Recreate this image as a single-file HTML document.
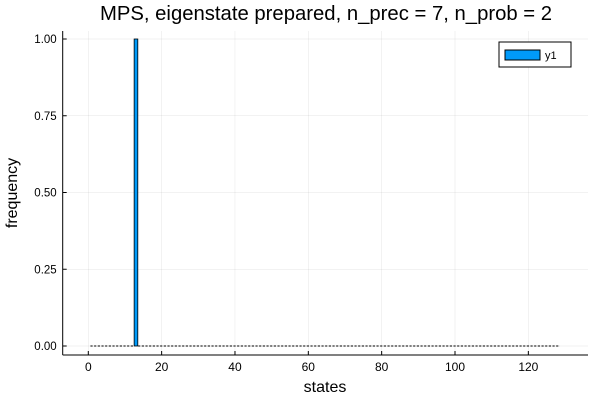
<!DOCTYPE html>
<html><head><meta charset="utf-8"><style>
body{margin:0;background:#fff;}
svg{display:block;font-family:"Liberation Sans","DejaVu Sans",sans-serif;}
</style></head><body>
<svg id="c" width="600" height="400">
<text x="326" y="20" font-size="20.3" text-anchor="middle" fill="#000">MPS, eigenstate prepared, n_prec = 7, n_prob = 2</text>
<g id="grid"></g>
<g id="bars"></g>
<g id="axes"></g>
<text x="325" y="392" font-size="16" text-anchor="middle">states</text>
<text transform="translate(17,193) rotate(-90)" font-size="16" text-anchor="middle">frequency</text>
<g>
<rect x="499" y="42" width="72" height="25" fill="#fff" stroke="#000" stroke-width="1"/>
<rect x="505" y="50" width="35" height="10" fill="#009af9" stroke="#000" stroke-width="1"/>
<text x="545" y="59" font-size="11">y1</text>
</g>
</svg>
<script>
const states = Array.from({length:128},(_, i)=>i+1);
const freqValues = states.map(s => s === 13 ? 1.0 : 0.0);
const xTicks = [0,20,40,60,80,100,120];
const yTicks = [0,0.25,0.5,0.75,1.0];
const yTickLabels = ["0.00","0.25","0.50","0.75","1.00"];

const L=62.7,R=588,T=31,B=355;
const xs=v=>88.3+v*3.667;
const ys=v=>346-v*307;
const NS="http://www.w3.org/2000/svg";
function mk(tag,attrs,parent){const e=document.createElementNS(NS,tag);for(const k in attrs)e.setAttribute(k,attrs[k]);parent.appendChild(e);return e;}
const grid=document.getElementById('grid'),bars=document.getElementById('bars'),axes=document.getElementById('axes');
xTicks.forEach(t=>{
  const l=mk('line',{x1:xs(t),x2:xs(t),y1:T,y2:B,stroke:'#000','stroke-opacity':0.1,'stroke-width':0.5},grid);
  
  
  const tk=mk('line',{x1:xs(t),x2:xs(t),y1:B,y2:B-4,stroke:'#000','stroke-width':1},axes);
  
  
  const tx=mk('text',{x:xs(t),y:B+16,'font-size':12,'text-anchor':'middle'},axes);
  tx.textContent=t;
  
  
});
yTicks.forEach((t,i)=>{
  const l=mk('line',{x1:L,x2:R,y1:ys(t),y2:ys(t),stroke:'#000','stroke-opacity':0.1,'stroke-width':0.5},grid);
  
  
  const tk=mk('line',{x1:L,x2:L+4,y1:ys(t),y2:ys(t),stroke:'#000','stroke-width':1},axes);
  
  
  const tx=mk('text',{x:L-6,y:ys(t)+4,'font-size':11.5,'text-anchor':'end'},axes);
  tx.textContent=yTickLabels[i];
  
  
});
const ax1=mk('line',{x1:L,x2:L,y1:T,y2:B,stroke:'#000','stroke-width':1},axes);


const ax2=mk('line',{x1:L,x2:R,y1:B,y2:B,stroke:'#000','stroke-width':1},axes);


states.forEach((s,i)=>{
  const v=freqValues[i];
  const x0=xs(s-0.5),x1=xs(s+0.5);
  if(v>0){
    const r=mk('rect',{x:x0,y:ys(v),width:x1-x0,height:ys(0)-ys(v),fill:'#009af9',stroke:'#000','stroke-width':0.8},bars);
    
    
  } else {
    const r=mk('line',{x1:x0+0.3,x2:x1-0.3,y1:ys(0),y2:ys(0),stroke:'#000','stroke-width':1,'stroke-dasharray':'2.2,0.8'},bars);
    
    
  }
});
</script>
</body></html>
